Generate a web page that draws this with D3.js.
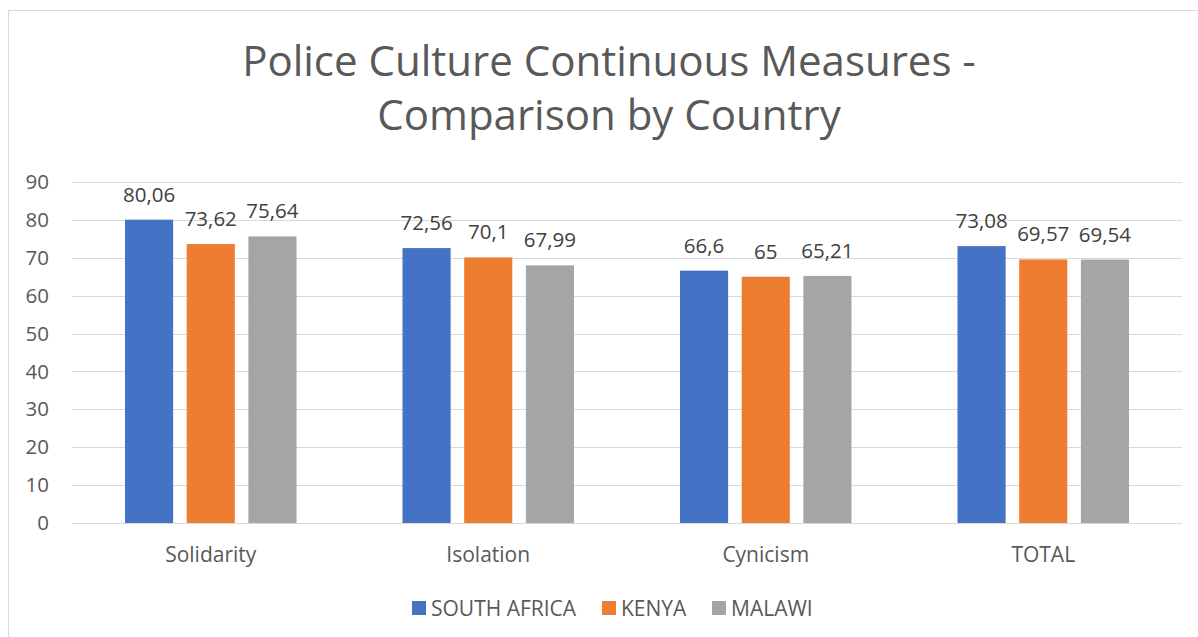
<!DOCTYPE html>
<html>
<head>
<meta charset="utf-8">
<script src="https://cdn.jsdelivr.net/npm/d3@7"></script>
<style>
  html, body { margin: 0; padding: 0; background: #fff; }
  svg { display: block; }
  text { font-family: "Open Sans", "Noto Sans", sans-serif; fill: #595959; }
</style>
</head>
<body>
<svg id="chart" width="1198" height="637"></svg>
<script>
// Measures compared across the three countries
const categories = ["Solidarity", "Isolation", "Cynicism", "TOTAL"];
const seriesNames = ["SOUTH AFRICA", "KENYA", "MALAWI"];
const southAfrica = [80.06, 72.56, 66.6, 73.08];
const kenya = [73.62, 70.1, 65, 69.57];
const malawi = [75.64, 67.99, 65.21, 69.54];
const yTicks = [0, 10, 20, 30, 40, 50, 60, 70, 80, 90];
const titleLines = ["Police Culture Continuous Measures -", "Comparison by Country"];

const seriesValues = [southAfrica, kenya, malawi];
const colors = ["#4472C4", "#ED7D31", "#A5A5A5"];

const W = 1198, H = 637;
const plot = { left: 72, right: 1182, top: 182, bottom: 523 };

const svg = d3.select("#chart");

// chart frame
svg.append("rect")
  .attr("x", 8.5).attr("y", 10.5)
  .attr("width", W + 20).attr("height", H + 20)
  .attr("fill", "#fff").attr("stroke", "#d9d9d9").attr("stroke-width", 1);

// title
svg.append("g").selectAll("text")
  .data(titleLines)
  .join("text")
  .attr("x", 609)
  .attr("y", (d, i) => 76 + i * 54)
  .attr("text-anchor", "middle")
  .style("font-size", "42px")
  .text(d => d);

const y = d3.scaleLinear().domain([0, 90]).range([plot.bottom, plot.top]);
const x0 = d3.scaleBand().domain(categories).range([plot.left, plot.right]).padding(0);
const groupPad = 53;
const x1 = d3.scaleBand().domain(seriesNames)
  .range([groupPad, x0.bandwidth() - groupPad])
  .paddingInner(0.22).paddingOuter(0);

// gridlines
svg.append("g").selectAll("line")
  .data(yTicks)
  .join("line")
  .attr("x1", plot.left).attr("x2", plot.right)
  .attr("y1", d => Math.round(y(d)) + 0.5).attr("y2", d => Math.round(y(d)) + 0.5)
  .attr("stroke", "#d9d9d9").attr("stroke-width", 1);

// y-axis labels
const yAxis = d3.axisLeft(y).tickValues(yTicks).tickSize(0).tickPadding(0);
const yg = svg.append("g").attr("transform", `translate(49,0)`).call(yAxis);
yg.select(".domain").remove();
yg.selectAll("text")
  .attr("fill", "#595959")
  .style("font-family", "\"Open Sans\", sans-serif")
  .style("font-size", "20.5px");

// bars
const fmt = v => String(v).replace(".", ",");
const groups = svg.append("g").selectAll("g")
  .data(categories)
  .join("g")
  .attr("transform", d => `translate(${x0(d)},0)`);

const cells = ci => seriesNames.map((s, si) => ({ s, si, v: seriesValues[si][ci] }));

groups.selectAll("rect")
  .data(c => cells(categories.indexOf(c)))
  .join("rect")
  .attr("x", d => x1(d.s))
  .attr("width", x1.bandwidth())
  .attr("y", d => y(d.v))
  .attr("height", d => y(0) - y(d.v))
  .attr("fill", d => colors[d.si]);

groups.selectAll("text.label")
  .data(c => cells(categories.indexOf(c)))
  .join("text")
  .attr("class", "label")
  .attr("x", d => x1(d.s) + x1.bandwidth() / 2)
  .attr("y", d => y(d.v) - 18)
  .attr("text-anchor", "middle")
  .style("font-size", "20.5px")
  .style("fill", "#404040")
  .text(d => fmt(d.v));

// category axis
const xAxis = d3.axisBottom(x0).tickSize(0).tickPadding(0);
const xg = svg.append("g").attr("transform", `translate(0,${plot.bottom})`).call(xAxis);
xg.select(".domain").remove();
xg.selectAll("text")
  .attr("dy", 0).attr("y", 39)
  .attr("fill", "#595959")
  .style("font-family", "\"Open Sans\", sans-serif")
  .style("font-size", "21px");

// legend
const legendX = [412, 602, 712];
const lg = svg.append("g").selectAll("g")
  .data(seriesNames)
  .join("g")
  .attr("transform", (d, i) => `translate(${legendX[i]},601)`);
lg.append("rect").attr("width", 14).attr("height", 14).attr("fill", (d, i) => colors[i]);
lg.append("text").attr("x", 19).attr("y", 14.5).style("font-size", "21px").text(d => d);
</script>
</body>
</html>
